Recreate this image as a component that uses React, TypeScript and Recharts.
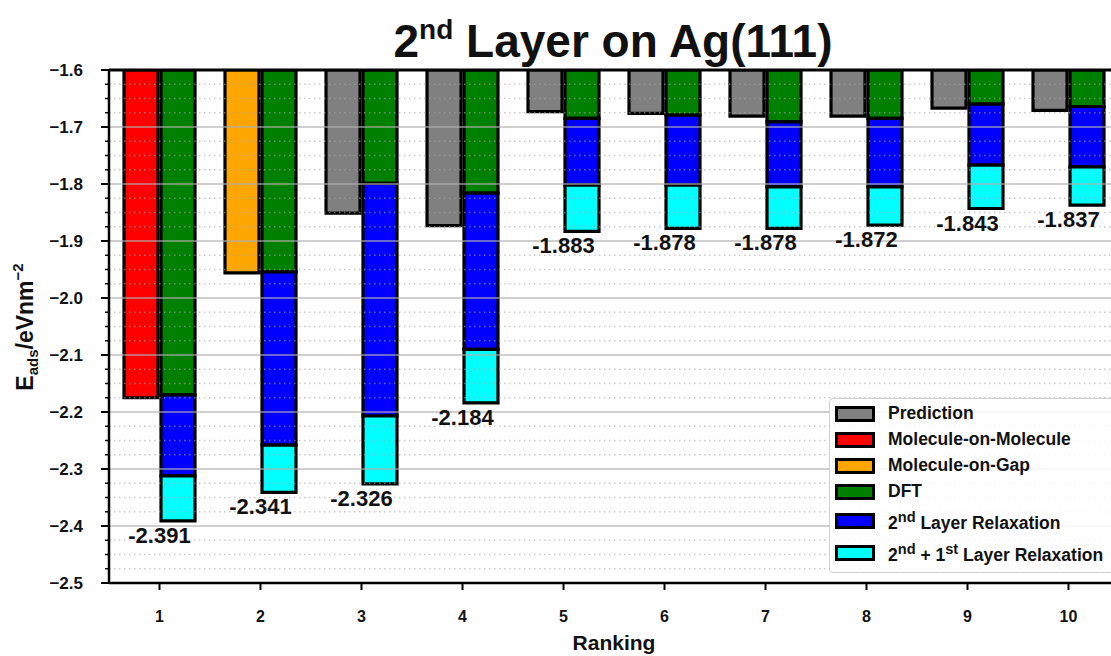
import React from "react";
import { Bar, BarChart, LabelList, Legend, ReferenceLine, XAxis, YAxis } from "recharts";

const FONT = '"Liberation Sans", Arial, Helvetica, sans-serif';

// top of the axis; bars hang down from here
const TOP = -1.6;

const rankings = ["1", "2", "3", "4", "5", "6", "7", "8", "9", "10"];
const prediction = [null, null, -1.851, -1.873, -1.673, -1.676, -1.681, -1.681, -1.667, -1.671];
const moleculeOnMolecule = [-2.175, null, null, null, null, null, null, null, null, null];
const moleculeOnGap = [null, -1.956, null, null, null, null, null, null, null, null];
const dft = [-2.17, -1.954, -1.799, -1.816, -1.685, -1.679, -1.691, -1.685, -1.66, -1.664];
const layer2Relax = [-2.312, -2.258, -2.207, -2.09, -1.802, -1.802, -1.805, -1.805, -1.767, -1.77];
const layer21Relax = [-2.391, -2.341, -2.326, -2.184, -1.883, -1.878, -1.878, -1.872, -1.843, -1.837];

const majorTicks = [-1.6, -1.7, -1.8, -1.9, -2.0, -2.1, -2.2, -2.3, -2.4, -2.5];
const minorTicks = majorTicks
  .slice(0, -1)
  .flatMap((t) => [0.025, 0.05, 0.075].map((d) => +(t - d).toFixed(3)));

const depth = (v: number | null) => (v == null ? null : +(v - TOP).toFixed(4));
const step = (a: number, b: number) => +(b - a).toFixed(4);

const chartData = rankings.map((rank, i) => ({
  rank,
  prediction: depth(prediction[i]),
  mom: depth(moleculeOnMolecule[i]),
  mog: depth(moleculeOnGap[i]),
  dft: depth(dft[i]),
  layer2: step(dft[i], layer2Relax[i]),
  layer21: step(layer2Relax[i], layer21Relax[i]),
}));

const legendItems: { color: string; label: React.ReactNode }[] = [
  { color: "#808080", label: "Prediction" },
  { color: "#ff0000", label: "Molecule-on-Molecule" },
  { color: "#ffa500", label: "Molecule-on-Gap" },
  { color: "#008000", label: "DFT" },
  { color: "#0000ff", label: <>2<sup>nd</sup> Layer Relaxation</> },
  { color: "#00ffff", label: <>2<sup>nd</sup> + 1<sup>st</sup> Layer Relaxation</> },
];

const fmtTick = (v: number) => v.toFixed(1).replace("-", "\u2212");

function YTick(props: any) {
  const { x, y, payload } = props;
  const v = payload.value + TOP;
  const isMajor = majorTicks.some((t) => Math.abs(t - v) < 1e-6);
  const axisX = x + 26;
  return (
    <g>
      <line
        x1={axisX - (isMajor ? 8 : 4)}
        x2={axisX}
        y1={y}
        y2={y}
        stroke="#000"
        strokeWidth={isMajor ? 2 : 1.5}
      />
      {isMajor && (
        <text x={x} y={y} dy="0.36em" textAnchor="end" fontSize={17} fontWeight="bold" fill="#111" fontFamily={FONT}>
          {fmtTick(v)}
        </text>
      )}
    </g>
  );
}

function renderTotal(props: any) {
  const vb = props.viewBox ?? props;
  const { x, y, height } = vb;
  const bottom = Math.max(y, y + height);
  const value = layer21Relax[props.index];
  if (value == null) return null;
  return (
    <text
      x={x - 1.5}
      y={bottom + 22}
      textAnchor="middle"
      fontSize={22}
      fontWeight="bold"
      fill="#111"
      fontFamily={FONT}
    >
      {value.toFixed(3)}
    </text>
  );
}

function LegendBox() {
  const heights = [26, 26, 26, 26, 32, 32];
  return (
    <div
      style={{
        width: 290,
        height: 175,
        boxSizing: "border-box",
        paddingTop: 2,
        background: "rgba(255,255,255,0.85)",
        border: "1.5px solid #cfcfcf",
        borderRadius: 4,
        fontFamily: FONT,
        fontWeight: "bold",
        fontSize: 17.5,
        color: "#111",
      }}
    >
      {legendItems.map((item, i) => (
        <div key={i} style={{ display: "flex", alignItems: "center", height: heights[i] }}>
          <div
            style={{
              width: 40,
              height: 16,
              boxSizing: "border-box",
              border: "3px solid #000",
              background: item.color,
              marginLeft: 5,
              marginRight: 13,
              flexShrink: 0,
            }}
          />
          <span style={{ whiteSpace: "nowrap", lineHeight: 1 }}>{item.label}</span>
        </div>
      ))}
    </div>
  );
}

const barStroke = { stroke: "#000", strokeWidth: 3.2 };

export default function App() {
  const yTicks = [...majorTicks, ...minorTicks].map((t) => depth(t) as number);
  return (
    <div
      style={{
        position: "fixed",
        left: 0,
        top: 0,
        width: 1111,
        height: 656,
        overflow: "hidden",
        background: "#fff",
        fontFamily: FONT,
      }}
    >
      <BarChart
        width={1130}
        height={656}
        data={chartData}
        margin={{ top: 70, right: 11, bottom: 0, left: 0 }}
        barSize={34}
        barGap={3}
      >
        <XAxis
          dataKey="rank"
          height={73}
          tickSize={7}
          tickMargin={21}
          axisLine={{ stroke: "#000", strokeWidth: 2.5 }}
          tickLine={{ stroke: "#000", strokeWidth: 2 }}
          tick={{ fontSize: 16, fontWeight: "bold", fill: "#111", fontFamily: FONT }}
          interval={0}
        />
        <YAxis
          type="number"
          domain={[-0.9, 0]}
          ticks={yTicks}
          interval={0}
          width={109}
          tickSize={8}
          tickMargin={18}
          tickLine={false}
          axisLine={{ stroke: "#000", strokeWidth: 2.5 }}
          tick={<YTick />}
          allowDataOverflow
        />
        <Bar dataKey="prediction" stackId="a" fill="#808080" {...barStroke} isAnimationActive={false} />
        <Bar dataKey="mom" stackId="a" fill="#ff0000" {...barStroke} isAnimationActive={false} />
        <Bar dataKey="mog" stackId="a" fill="#ffa500" {...barStroke} isAnimationActive={false} />
        <Bar dataKey="dft" stackId="b" fill="#008000" {...barStroke} isAnimationActive={false} />
        <Bar dataKey="layer2" stackId="b" fill="#0000ff" {...barStroke} isAnimationActive={false} />
        <Bar dataKey="layer21" stackId="b" fill="#00ffff" {...barStroke} isAnimationActive={false}>
          <LabelList dataKey="layer21" content={renderTotal} />
        </Bar>
        {minorTicks.map((t) => (
          <ReferenceLine
            key={"m" + t}
            y={depth(t) as number}
            stroke="#a8a8a8"
            strokeOpacity={0.6}
            strokeWidth={1.5}
            strokeDasharray="1.5 3.5"
          />
        ))}
        {majorTicks.slice(1, -1).map((t) => (
          <ReferenceLine key={"M" + t} y={depth(t) as number} stroke="#b0b0b0" strokeOpacity={0.8} strokeWidth={1.5} />
        ))}
        <ReferenceLine y={0} stroke="#000" strokeWidth={3} />
        <Legend
          layout="vertical"
          align="center"
          verticalAlign="middle"
          content={() => <LegendBox />}
          wrapperStyle={{ position: "absolute", left: 829, top: 398, width: 290 }}
        />
      </BarChart>
      <svg
        width={1111}
        height={656}
        style={{ position: "absolute", left: 0, top: 0, pointerEvents: "none" }}
        fontFamily={FONT}
      >
        <text x={613} y={57} textAnchor="middle" fontSize={46} fontWeight="bold" fill="#111">
          2
          <tspan fontSize={28} dy={-18}>
            nd
          </tspan>
          <tspan fontSize={46} dy={18}>
            {" Layer on Ag(111)"}
          </tspan>
        </text>
        <text x={-327} y={33} transform="rotate(-90)" textAnchor="middle" fontSize={23} fontWeight="bold" fill="#111">
          E
          <tspan fontSize={15} dy={5}>
            ads
          </tspan>
          <tspan fontSize={23} dy={-5}>
            /eVnm
          </tspan>
          <tspan fontSize={15} dy={-10}>
            {"\u22122"}
          </tspan>
        </text>
        <text x={614} y={650} textAnchor="middle" fontSize={21} fontWeight="bold" fill="#111">
          Ranking
        </text>
      </svg>
    </div>
  );
}
